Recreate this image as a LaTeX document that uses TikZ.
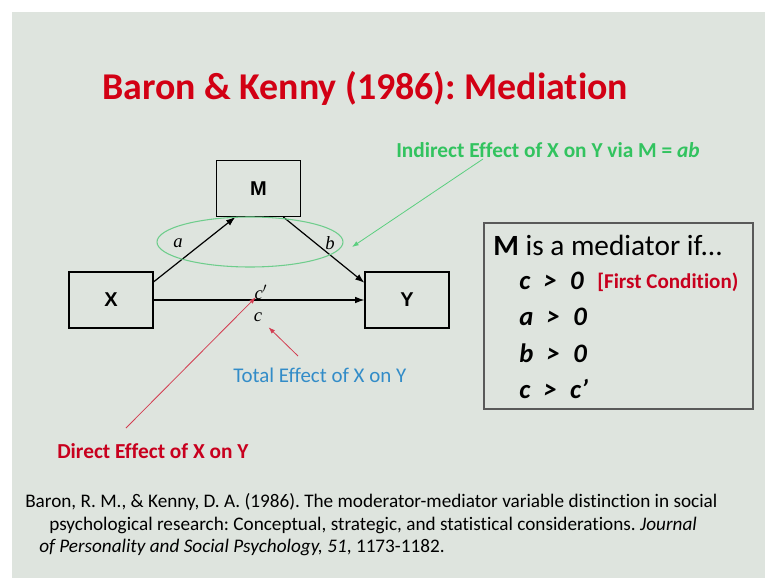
\documentclass[tikz,border=0pt]{standalone}
\usepackage{fontspec}
\setmainfont{Carlito}[Ligatures=NoCommon]
\newfontfamily\arialfont{Liberation Sans}
\newfontfamily\timesfont{Liberation Serif}
\usetikzlibrary{shapes.geometric,arrows.meta}
\definecolor{slidebg}{RGB}{222,228,222}
\definecolor{titlered}{RGB}{210,0,20}
\definecolor{indgreen}{RGB}{50,195,95}
\definecolor{ellgreen}{RGB}{110,205,140}
\definecolor{totblue}{RGB}{50,140,200}
\definecolor{dirred}{RGB}{200,0,30}
\definecolor{linered}{RGB}{210,60,80}
\frenchspacing
\begin{document}
\begin{tikzpicture}[x=0.75pt,y=-0.75pt,
    varbox/.style={draw,line width=0.8pt,minimum width=63pt,minimum height=42pt,
        font=\arialfont\bfseries\fontsize{15}{17}\selectfont},
    effect/.style={>={Latex[length=7pt,width=5pt]},->,line width=0.9pt},
    pointer/.style={>={Latex[length=5pt,width=3.5pt]},->,line width=0.6pt},
    coef/.style={inner sep=0pt,font=\timesfont\itshape\fontsize{14}{16}\selectfont},
    lbl/.style={anchor=base west,inner sep=0pt},
    cond/.style={lbl,font=\bfseries\itshape\fontsize{20}{24}\selectfont}]
\useasboundingbox (0,0) rectangle (765,578);
\fill[white] (0,0) rectangle (765,578);
\fill[slidebg] (12,12) rectangle (765,578);
% title
\node[lbl,text=titlered,font=\bfseries\fontsize{28.4}{34}\selectfont] (title) at (102,99)
    {Baron \& Kenny (1986): Mediation};
% the three variables
\node[varbox] (M) at (258.5,188.5) {M};
\node[varbox] (X) at (111,300) {X};
\node[varbox] (Y) at (407,300) {Y};
\draw[effect] (X.23) -- (M.231);
\draw[effect] (M.-49) -- (Y.158);
\draw[effect] (X.east) -- (Y.west);
\node[coef] (coefa) at (178,243) {a};
\node[coef] (coefb) at (330,243) {b};
\node[coef] (coefcp) at (261,292) {c$^{\prime}$};
\node[coef] (coefc) at (258,317) {c};
% indirect effect
\node[draw=ellgreen,line width=0.8pt,ellipse,minimum width=139.5pt,minimum height=37.5pt] (indirect) at (250,242) {};
\node[lbl,text=indgreen,font=\bfseries\fontsize{16}{19}\selectfont] (indlbl) at (396,157)
    {Indirect Effect of X on Y via M = \textit{ab}};
\coordinate (indfrom) at (483,159);
\coordinate (indto) at (352,247);
\draw[pointer,indgreen!80] (indfrom) -- (indto);
% total and direct effect
\node[lbl,text=totblue,font=\fontsize{15.7}{19}\selectfont] (totlbl) at (233,382) {Total Effect of X on Y};
\coordinate (totfrom) at (298,356);
\draw[pointer,linered,shorten >=11pt] (totfrom) -- (coefc.center);
\node[lbl,text=dirred,font=\bfseries\fontsize{16}{19}\selectfont] (dirlbl) at (57,458) {Direct Effect of X on Y};
\coordinate (dirfrom) at (126,428);
\draw[pointer,linered,shorten >=5.5pt] (dirfrom) -- (coefcp.center);
% conditions
\node[draw=black!65,line width=1.1pt,minimum width=201.75pt,minimum height=139.5pt] (medbox) at (618.5,316) {};
\node[lbl,font=\fontsize{22}{26}\selectfont] (medhead) at (493,255) {\textbf{M} is a mediator if...};
\node[cond] (cond1) at (519,289) {c\enspace>\enspace0};
\node[lbl,text=dirred,font=\bfseries\fontsize{15.8}{18}\selectfont] (firstcond) at (597,288) {[First Condition)};
\node[cond] (cond2) at (519,325) {a\enspace>\enspace0};
\node[cond] (cond3) at (519,362) {b\enspace>\enspace0};
\node[cond] (cond4) at (519,398) {c\enspace>\enspace c’};
% reference
\node[lbl,font=\fontsize{14.4}{17}\selectfont] (ref1) at (25,507)
    {Baron, R. M., \& Kenny, D. A. (1986). The moderator-mediator variable distinction in social};
\node[lbl,font=\fontsize{14.4}{17}\selectfont] (ref2) at (49,530)
    {psychological research: Conceptual, strategic, and statistical considerations. \textit{Journal}};
\node[lbl,font=\fontsize{14.4}{17}\selectfont] (ref3) at (39,552)
    {\textit{of Personality and Social Psychology, 51}, 1173-1182.};
\end{tikzpicture}
\end{document}
